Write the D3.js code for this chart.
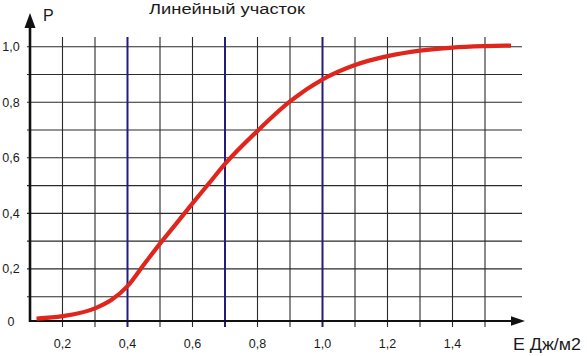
<!DOCTYPE html>
<html><head><meta charset="utf-8">
<script src="https://cdn.jsdelivr.net/npm/d3@7"></script>
<style>body{margin:0;background:#fff}svg{display:block}text{font-family:"Liberation Sans",Arial,sans-serif;fill:#1a1a1a}</style>
</head><body><svg id="c" width="587" height="356"></svg>
<script>
const energy = [0.12,0.2,0.3,0.35,0.4,0.45,0.5,0.55,0.6,0.65,0.7,0.8,0.9,1.0,1.1,1.2,1.3,1.4,1.5,1.58];
const prob   = [0.01,0.02,0.052,0.086,0.138,0.215,0.291,0.363,0.436,0.507,0.578,0.697,0.803,0.882,0.934,0.966,0.986,0.997,1.002,1.004];
const xGrid = [0.2,0.3,0.4,0.5,0.6,0.7,0.8,0.9,1.0,1.1,1.2,1.3,1.4,1.5];
const yGrid = [0.1,0.2,0.3,0.4,0.5,0.6,0.7,0.8,0.9,1.0];
const xTickLabels = [0.2,0.4,0.6,0.8,1.0,1.2,1.4];
const yTickLabels = [0,0.2,0.4,0.6,0.8,1.0];
const markers = [0.4,0.7,1.0];
const title = "Линейный участок";
const xTitle = "Е Дж/м2";
const yTitle = "Р";

const svg = d3.select("#c");
const x = d3.scaleLinear().domain([0.1,1.5]).range([30,485]);
const y = d3.scaleLinear().domain([0,0.1,1]).range([321,296.7,46.7]);
const fmt = v => d3.format(".1f")(v).replace(".",",");

// horizontal grid
svg.append("g").selectAll("line").data(yGrid).join("line")
  .attr("x1",27).attr("x2",522).attr("y1",d=>y(d)).attr("y2",d=>y(d))
  .attr("stroke","#2a2a2a").attr("stroke-width",1.1);
// vertical grid
svg.append("g").selectAll("line").data(xGrid.filter(d=>!markers.includes(d))).join("line")
  .attr("x1",d=>x(d)).attr("x2",d=>x(d)).attr("y1",37).attr("y2",327)
  .attr("stroke","#2a2a2a").attr("stroke-width",1.1);
// blue markers
svg.append("g").selectAll("line").data(markers).join("line")
  .attr("x1",d=>x(d)).attr("x2",d=>x(d)).attr("y1",37).attr("y2",327)
  .attr("stroke","#221c7c").attr("stroke-width",2);

// axes
svg.append("line").attr("x1",x(0.1)).attr("x2",512).attr("y1",y(0)).attr("y2",y(0))
  .attr("stroke","#111").attr("stroke-width",2.2);
svg.append("path").attr("d",`M${511},${y(0)-4.8}L525,${y(0)}L${511},${y(0)+4.8}Z`).attr("fill","#111");
svg.append("line").attr("x1",x(0.1)).attr("x2",x(0.1)).attr("y1",y(0)+1).attr("y2",27)
  .attr("stroke","#111").attr("stroke-width",2.6);
svg.append("path").attr("d",`M${x(0.1)-5.5},28L${x(0.1)},13L${x(0.1)+5.5},28Z`).attr("fill","#111");

// curve
const pts = energy.map((e,i)=>[e,prob[i]]);
svg.append("path").datum(pts)
  .attr("d",d3.line().x(d=>x(d[0])).y(d=>y(d[1])).curve(d3.curveMonotoneX))
  .attr("fill","none").attr("stroke","#e0261c").attr("stroke-width",4.2).attr("stroke-linecap","butt");

// labels
svg.append("g").selectAll("text").data(yTickLabels).join("text")
  .attr("x",11).attr("y",d=>y(d)+4.5).attr("text-anchor","middle").attr("font-size",12.5)
  .text(d=>d===0?"0":fmt(d));
svg.append("g").selectAll("text").data(xTickLabels).join("text")
  .attr("x",d=>x(d)).attr("y",347.5).attr("text-anchor","middle").attr("font-size",12.5)
  .text(fmt);
svg.append("text").attr("x",149).attr("y",14).attr("font-size",15.5)
  .attr("textLength",156).attr("lengthAdjust","spacingAndGlyphs").text(title);
svg.append("text").attr("x",43).attr("y",20.5).attr("font-size",16).text(yTitle);
svg.append("text").attr("x",513).attr("y",349.5).attr("font-size",16.5)
  .attr("textLength",68).attr("lengthAdjust","spacingAndGlyphs").text(xTitle);
</script></body></html>
